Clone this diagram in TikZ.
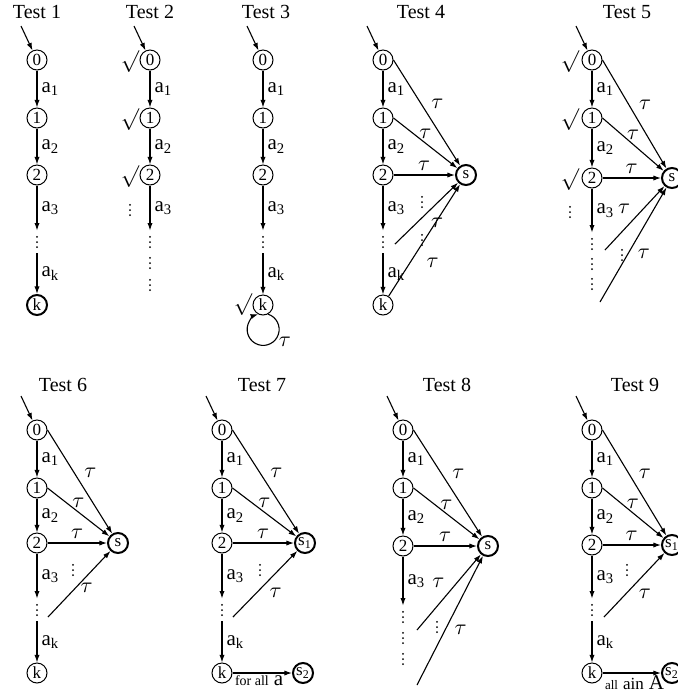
\documentclass[tikz,border=0pt]{standalone}
\usepackage{fontspec}
\setmainfont{Liberation Serif}
\usepackage{tikz}
\usetikzlibrary{arrows.meta, positioning}
\tikzstyle{stnode} = [
    circle,
    draw,
    line width=0.5pt,
    minimum size=10pt,
    inner sep=0pt,
    font=\fontsize{8.5}{9}\selectfont
]
\tikzstyle{sink} = [
    stnode,
    line width=1pt
]
\tikzstyle{vdot} = [
    inner sep=0pt,
    minimum width=3pt,
    minimum height=11pt,
    path picture={
        \fill ([yshift=2.6pt]path picture bounding box.center) circle (0.5pt);
        \fill (path picture bounding box.center) circle (0.5pt);
        \fill ([yshift=-2.6pt]path picture bounding box.center) circle (0.5pt);
    }
]
\tikzstyle{chk} = [
    inner sep=0pt,
    font=\fontsize{11}{11}\selectfont
]
\tikzstyle{testtitle} = [
    font=\fontsize{10}{11}\selectfont
]
\tikzstyle{lbl} = [
    inner sep=2pt,
    font=\fontsize{10.5}{11}\selectfont
]
\tikzstyle{arrow} = [
    line width=0.55pt,
    -{Latex[length=3.8pt, width=2.6pt]}
]
\begin{document}
\begin{tikzpicture}[x=0.5pt, y=-0.5pt]
        \useasboundingbox (0,0) rectangle (677,698);

        % Test 1
        \begin{scope}[shift={(37,60)}]
        \node[testtitle] (t1head) at (0,-48) {Test 1};
        \coordinate (t1in) at (-16,-34);
        \node[stnode] (t1q0) at (0,0) {0};
        \node[stnode] (t1q1) at (0,58) {1};
        \node[stnode] (t1q2) at (0,115) {2};
        \node[vdot] (t1dots) at (0,182) {};
        \node[sink] (t1k) at (0,245) {k};
        \draw[arrow] (t1in) -- (t1q0);
        \draw[arrow] (t1q0) -- node[lbl, right] {a\textsubscript{1}} (t1q1);
        \draw[arrow] (t1q1) -- node[lbl, right] {a\textsubscript{2}} (t1q2);
        \draw[arrow] (t1q2) -- node[lbl, right] {a\textsubscript{3}} (t1dots);
        \draw[arrow] (t1dots) -- node[lbl, right] {a\textsubscript{k}} (t1k);
        \end{scope}

        % Test 2
        \begin{scope}[shift={(150,60)}]
        \node[testtitle] (t2head) at (0,-48) {Test 2};
        \coordinate (t2in) at (-16,-34);
        \node[stnode] (t2q0) at (0,0) {0};
        \node[stnode] (t2q1) at (0,58) {1};
        \node[stnode] (t2q2) at (0,115) {2};
        \node[chk] (t2c0) at (-20,2) {$\surd$};
        \node[chk] (t2c1) at (-20,60) {$\surd$};
        \node[chk] (t2c2) at (-20,117) {$\surd$};
        \node[vdot] (t2side) at (-20,150) {};
        \node[vdot] (t2dots1) at (0,182) {};
        \node[vdot] (t2dots2) at (0,203) {};
        \node[vdot] (t2dots3) at (0,225) {};
        \draw[arrow] (t2in) -- (t2q0);
        \draw[arrow] (t2q0) -- node[lbl, right] {a\textsubscript{1}} (t2q1);
        \draw[arrow] (t2q1) -- node[lbl, right] {a\textsubscript{2}} (t2q2);
        \draw[arrow] (t2q2) -- node[lbl, right] {a\textsubscript{3}} (t2dots1);
        \end{scope}

        % Test 3
        \begin{scope}[shift={(263,60)}]
        \node[testtitle] (t3head) at (3,-48) {Test 3};
        \coordinate (t3in) at (-16,-34);
        \node[stnode] (t3q0) at (0,0) {0};
        \node[stnode] (t3q1) at (0,58) {1};
        \node[stnode] (t3q2) at (0,115) {2};
        \node[vdot] (t3dots) at (0,182) {};
        \node[stnode] (t3k) at (0,245) {k};
        \node[chk] (t3c) at (-20,245) {$\surd$};
        \node[lbl] (t3tau) at (22,282) {$\tau$};
        \draw[arrow] (t3in) -- (t3q0);
        \draw[arrow] (t3q0) -- node[lbl, right] {a\textsubscript{1}} (t3q1);
        \draw[arrow] (t3q1) -- node[lbl, right] {a\textsubscript{2}} (t3q2);
        \draw[arrow] (t3q2) -- node[lbl, right] {a\textsubscript{3}} (t3dots);
        \draw[arrow] (t3dots) -- node[lbl, right] {a\textsubscript{k}} (t3k);
        % self loop under k
        \draw[arrow] (t3k.-61) arc[start angle=72, end angle=-252, radius=8pt];
        \end{scope}

        % Test 4
        \begin{scope}[shift={(383,60)}]
        \node[testtitle] (t4head) at (38,-48) {Test 4};
        \coordinate (t4in) at (-16,-34);
        \node[stnode] (t4q0) at (0,0) {0};
        \node[stnode] (t4q1) at (0,58) {1};
        \node[stnode] (t4q2) at (0,115) {2};
        \node[vdot] (t4dots) at (0,182) {};
        \node[stnode] (t4k) at (0,245) {k};
        \node[sink] (t4s) at (83,115) {s};
        \coordinate (t4p) at (12,184);
        \node[vdot] (t4v1) at (39,142) {};
        \node[vdot] (t4v2) at (39,180) {};
        \draw[arrow] (t4in) -- (t4q0);
        \draw[arrow] (t4q0) -- node[lbl, right] {a\textsubscript{1}} (t4q1);
        \draw[arrow] (t4q1) -- node[lbl, right] {a\textsubscript{2}} (t4q2);
        \draw[arrow] (t4q2) -- node[lbl, right] {a\textsubscript{3}} (t4dots);
        \draw[arrow] (t4dots) -- node[lbl, right] {a\textsubscript{k}} (t4k);
        \draw[arrow] (t4q0.east) -- node[lbl, above right] {$\tau$} (t4s);
        \draw[arrow] (t4q1.east) -- node[lbl, above] {$\tau$} (t4s);
        \draw[arrow] (t4q2) -- node[lbl, above] {$\tau$} (t4s);
        \draw[arrow] (t4p) -- node[lbl, below right] {$\tau$} (t4s);
        \draw[arrow] (t4k) -- node[lbl, right=6pt, pos=0.3] {$\tau$} (t4s);
        \end{scope}

        % Test 5
        \begin{scope}[shift={(592,60)}]
        \node[testtitle] (t5head) at (35,-48) {Test 5};
        \coordinate (t5in) at (-16,-34);
        \node[stnode] (t5q0) at (0,0) {0};
        \node[stnode] (t5q1) at (0,58) {1};
        \node[stnode] (t5q2) at (0,118) {2};
        \node[chk] (t5c0) at (-22,2) {$\surd$};
        \node[chk] (t5c1) at (-22,60) {$\surd$};
        \node[chk] (t5c2) at (-22,120) {$\surd$};
        \node[vdot] (t5side) at (-22,152) {};
        \node[vdot] (t5dots1) at (0,184) {};
        \node[vdot] (t5dots2) at (0,204) {};
        \node[vdot] (t5dots3) at (0,224) {};
        \node[sink] (t5s) at (80,118) {s};
        \coordinate (t5p1) at (13,190);
        \coordinate (t5p2) at (8,242);
        \node[vdot] (t5v) at (30,195) {};
        \draw[arrow] (t5in) -- (t5q0);
        \draw[arrow] (t5q0) -- node[lbl, right] {a\textsubscript{1}} (t5q1);
        \draw[arrow] (t5q1) -- node[lbl, right] {a\textsubscript{2}} (t5q2);
        \draw[arrow] (t5q2) -- node[lbl, right] {a\textsubscript{3}} (t5dots1);
        \draw[arrow] (t5q0.east) -- node[lbl, above right] {$\tau$} (t5s);
        \draw[arrow] (t5q1.east) -- node[lbl, above] {$\tau$} (t5s);
        \draw[arrow] (t5q2) -- node[lbl, above] {$\tau$} (t5s);
        \draw[arrow] (t5p1) -- node[lbl, above left] {$\tau$} (t5s);
        \draw[arrow] (t5p2) -- node[lbl, below right] {$\tau$} (t5s);
        \end{scope}

        % Test 6
        \begin{scope}[shift={(37,430)}]
        \node[testtitle] (t6head) at (26,-45) {Test 6};
        \coordinate (t6in) at (-16,-34);
        \node[stnode] (t6q0) at (0,0) {0};
        \node[stnode] (t6q1) at (0,58) {1};
        \node[stnode] (t6q2) at (0,113) {2};
        \node[vdot] (t6dots) at (0,180) {};
        \node[stnode] (t6k) at (0,243) {k};
        \node[sink] (t6s) at (81,113) {s};
        \coordinate (t6p) at (11,187);
        \node[vdot] (t6v) at (36,140) {};
        \draw[arrow] (t6in) -- (t6q0);
        \draw[arrow] (t6q0) -- node[lbl, right] {a\textsubscript{1}} (t6q1);
        \draw[arrow] (t6q1) -- node[lbl, right] {a\textsubscript{2}} (t6q2);
        \draw[arrow] (t6q2) -- node[lbl, right] {a\textsubscript{3}} (t6dots);
        \draw[arrow] (t6dots) -- node[lbl, right] {a\textsubscript{k}} (t6k);
        \draw[arrow] (t6q0.east) -- node[lbl, above right] {$\tau$} (t6s);
        \draw[arrow] (t6q1.east) -- node[lbl, above] {$\tau$} (t6s);
        \draw[arrow] (t6q2) -- node[lbl, above] {$\tau$} (t6s);
        \draw[arrow] (t6p) -- node[lbl, right, pos=0.45] {$\tau$} (t6s);
        \end{scope}

        % Test 7
        \begin{scope}[shift={(222,430)}]
        \node[testtitle] (t7head) at (40,-45) {Test 7};
        \coordinate (t7in) at (-16,-34);
        \node[stnode] (t7q0) at (0,0) {0};
        \node[stnode] (t7q1) at (0,58) {1};
        \node[stnode] (t7q2) at (0,113) {2};
        \node[vdot] (t7dots) at (0,180) {};
        \node[stnode] (t7k) at (0,243) {k};
        \node[sink] (t7s1) at (83,113) {s\textsubscript{1}};
        \node[sink] (t7s2) at (81,243) {s\textsubscript{2}};
        \coordinate (t7p) at (11,187);
        \node[vdot] (t7v) at (38,140) {};
        \draw[arrow] (t7in) -- (t7q0);
        \draw[arrow] (t7q0) -- node[lbl, right] {a\textsubscript{1}} (t7q1);
        \draw[arrow] (t7q1) -- node[lbl, right] {a\textsubscript{2}} (t7q2);
        \draw[arrow] (t7q2) -- node[lbl, right] {a\textsubscript{3}} (t7dots);
        \draw[arrow] (t7dots) -- node[lbl, right] {a\textsubscript{k}} (t7k);
        \draw[arrow] (t7q0.east) -- node[lbl, above right] {$\tau$} (t7s1);
        \draw[arrow] (t7q1.east) -- node[lbl, above] {$\tau$} (t7s1);
        \draw[arrow] (t7q2) -- node[lbl, above] {$\tau$} (t7s1);
        \draw[arrow] (t7p) -- node[lbl, below right] {$\tau$} (t7s1);
        \draw[arrow] (t7k) -- node[pos=0, anchor=north west, inner sep=1pt] {{\fontsize{7}{8}\selectfont for all} {\fontsize{10.5}{11}\selectfont a}} (t7s2);
        \end{scope}

        % Test 8
        \begin{scope}[shift={(403,430)}]
        \node[testtitle] (t8head) at (44,-45) {Test 8};
        \coordinate (t8in) at (-16,-34);
        \node[stnode] (t8q0) at (0,0) {0};
        \node[stnode] (t8q1) at (0,58) {1};
        \node[stnode] (t8q2) at (0,116) {2};
        \node[vdot] (t8dots1) at (0,187) {};
        \node[vdot] (t8dots2) at (0,208) {};
        \node[vdot] (t8dots3) at (0,229) {};
        \node[sink] (t8s) at (85,116) {s};
        \coordinate (t8p1) at (14,200);
        \coordinate (t8p2) at (14,255);
        \node[vdot] (t8v) at (34,197) {};
        \draw[arrow] (t8in) -- (t8q0);
        \draw[arrow] (t8q0) -- node[lbl, right] {a\textsubscript{1}} (t8q1);
        \draw[arrow] (t8q1) -- node[lbl, right] {a\textsubscript{2}} (t8q2);
        \draw[arrow] (t8q2) -- node[lbl, right] {a\textsubscript{3}} (t8dots1);
        \draw[arrow] (t8q0.east) -- node[lbl, above right] {$\tau$} (t8s);
        \draw[arrow] (t8q1.east) -- node[lbl, above] {$\tau$} (t8s);
        \draw[arrow] (t8q2) -- node[lbl, above] {$\tau$} (t8s);
        \draw[arrow] (t8p1) -- node[lbl, above left] {$\tau$} (t8s);
        \draw[arrow] (t8p2) -- node[lbl, below right] {$\tau$} (t8s);
        \end{scope}

        % Test 9
        \begin{scope}[shift={(592,430)}]
        \node[testtitle] (t9head) at (43,-45) {Test 9};
        \coordinate (t9in) at (-16,-34);
        \node[stnode] (t9q0) at (0,0) {0};
        \node[stnode] (t9q1) at (0,58) {1};
        \node[stnode] (t9q2) at (0,115) {2};
        \node[vdot] (t9dots) at (0,180) {};
        \node[stnode] (t9k) at (0,243) {k};
        \node[sink] (t9s1) at (80,115) {s\textsubscript{1}};
        \node[sink] (t9s2) at (80,243) {s\textsubscript{2}};
        \coordinate (t9p) at (12,187);
        \node[vdot] (t9v) at (35,140) {};
        \draw[arrow] (t9in) -- (t9q0);
        \draw[arrow] (t9q0) -- node[lbl, right] {a\textsubscript{1}} (t9q1);
        \draw[arrow] (t9q1) -- node[lbl, right] {a\textsubscript{2}} (t9q2);
        \draw[arrow] (t9q2) -- node[lbl, right] {a\textsubscript{3}} (t9dots);
        \draw[arrow] (t9dots) -- node[lbl, right] {a\textsubscript{k}} (t9k);
        \draw[arrow] (t9q0.east) -- node[lbl, above right] {$\tau$} (t9s1);
        \draw[arrow] (t9q1.east) -- node[lbl, above] {$\tau$} (t9s1);
        \draw[arrow] (t9q2) -- node[lbl, above] {$\tau$} (t9s1);
        \draw[arrow] (t9p) -- node[lbl, below right] {$\tau$} (t9s1);
        \draw[arrow] (t9k) -- node[pos=0, anchor=north west, inner sep=1pt] {{\fontsize{6.5}{7}\selectfont all} {\fontsize{8.5}{9}\selectfont ain} {\fontsize{10.5}{11}\selectfont A}} (t9s2);
        \end{scope}
    \end{tikzpicture}
\end{document}
